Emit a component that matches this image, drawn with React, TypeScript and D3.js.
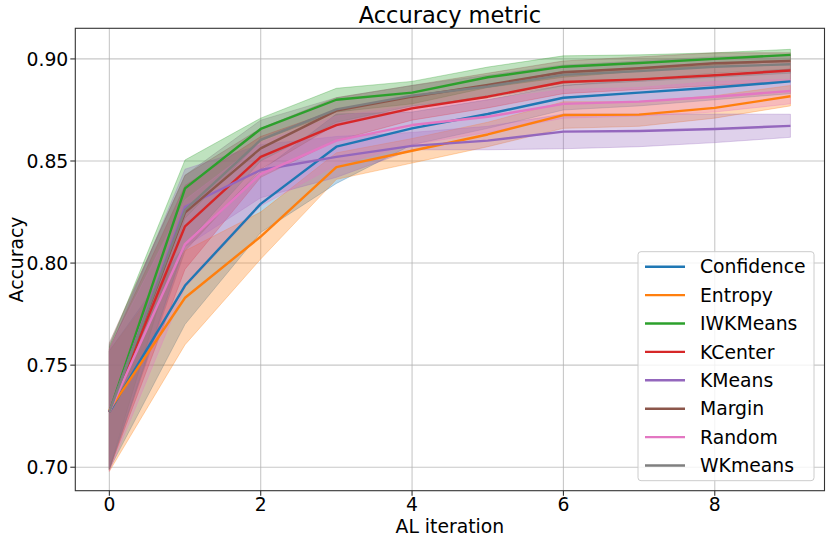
import React from "react";
import * as d3 from "d3";

const iterations = [0, 1, 2, 3, 4, 5, 6, 7, 8, 9];
const seriesNames = ["Confidence", "Entropy", "IWKMeans", "KCenter", "KMeans", "Margin", "Random", "WKmeans"];
const seriesColors = ["#1f77b4", "#ff7f0e", "#2ca02c", "#d62728", "#9467bd", "#8c564b", "#e377c2", "#7f7f7f"];

const confidenceMean = [0.727, 0.789, 0.829, 0.857, 0.866, 0.873, 0.881, 0.8835, 0.886, 0.889];
const confidenceLow = [0.699, 0.770, 0.815, 0.839, 0.858, 0.866, 0.875, 0.877, 0.880, 0.883];
const confidenceHigh = [0.757, 0.809, 0.845, 0.873, 0.874, 0.880, 0.887, 0.890, 0.892, 0.895];

const entropyMean = [0.728, 0.783, 0.813, 0.847, 0.855, 0.863, 0.8725, 0.8727, 0.876, 0.8817];
const entropyLow = [0.698, 0.760, 0.802, 0.841, 0.849, 0.857, 0.866, 0.867, 0.871, 0.877];
const entropyHigh = [0.757, 0.806, 0.825, 0.854, 0.861, 0.869, 0.879, 0.879, 0.882, 0.887];

const iwkMean = [0.727, 0.8366, 0.8657, 0.880, 0.8835, 0.891, 0.8962, 0.898, 0.900, 0.902];
const iwkLow = [0.699, 0.822, 0.860, 0.874, 0.878, 0.886, 0.891, 0.894, 0.897, 0.899];
const iwkHigh = [0.759, 0.8505, 0.871, 0.8856, 0.889, 0.896, 0.9015, 0.902, 0.903, 0.9047];

const kcenterMean = [0.727, 0.818, 0.852, 0.8676, 0.8758, 0.8815, 0.8887, 0.890, 0.892, 0.8943];
const kcenterLow = [0.699, 0.797, 0.842, 0.860, 0.870, 0.876, 0.883, 0.885, 0.887, 0.889];
const kcenterHigh = [0.758, 0.838, 0.862, 0.875, 0.882, 0.887, 0.894, 0.895, 0.897, 0.899];

const kmeansMean = [0.727, 0.8276, 0.8456, 0.852, 0.8574, 0.860, 0.8644, 0.8647, 0.8657, 0.8672];
const kmeansLow = [0.700, 0.808, 0.832, 0.842, 0.8555, 0.8555, 0.856, 0.857, 0.859, 0.8616];
const kmeansHigh = [0.757, 0.846, 0.858, 0.862, 0.864, 0.867, 0.873, 0.873, 0.873, 0.8729];

const marginMean = [0.727, 0.8247, 0.8562, 0.8747, 0.8815, 0.8873, 0.8935, 0.8954, 0.8979, 0.899];
const marginLow = [0.699, 0.806, 0.846, 0.868, 0.876, 0.882, 0.888, 0.890, 0.893, 0.895];
const marginHigh = [0.761, 0.843, 0.866, 0.881, 0.887, 0.893, 0.899, 0.901, 0.903, 0.903];

const randomMean = [0.727, 0.8093, 0.8436, 0.860, 0.8676, 0.8717, 0.878, 0.8791, 0.8815, 0.8843];
const randomLow = [0.698, 0.788, 0.828, 0.848, 0.858, 0.864, 0.871, 0.872, 0.874, 0.878];
const randomHigh = [0.758, 0.831, 0.859, 0.872, 0.877, 0.880, 0.885, 0.886, 0.889, 0.890];

const wkMean = [0.727, 0.826, 0.8603, 0.8753, 0.882, 0.8865, 0.8922, 0.894, 0.8962, 0.8974];
const wkLow = [0.699, 0.809, 0.850, 0.869, 0.877, 0.881, 0.887, 0.889, 0.891, 0.893];
const wkHigh = [0.760, 0.843, 0.870, 0.881, 0.887, 0.892, 0.897, 0.899, 0.901, 0.902];

const xTicks = [0, 2, 4, 6, 8];
const yTicks = [0.7, 0.75, 0.8, 0.85, 0.9];

const seriesMeans = [confidenceMean, entropyMean, iwkMean, kcenterMean, kmeansMean, marginMean, randomMean, wkMean];
const seriesLows = [confidenceLow, entropyLow, iwkLow, kcenterLow, kmeansLow, marginLow, randomLow, wkLow];
const seriesHighs = [confidenceHigh, entropyHigh, iwkHigh, kcenterHigh, kmeansHigh, marginHigh, randomHigh, wkHigh];

const W = 830;
const H = 543;
const left = 75.3;
const right = 824.5;
const top = 28.3;
const bottom = 490.7;
const FONT = "DejaVu Sans, sans-serif";
const FS = 18.8;

export default function App() {
  const x = d3.scaleLinear().domain([-0.45, 9.45]).range([left, right]);
  const y = d3.scaleLinear().domain([0.6885, 0.915]).range([bottom, top]);

  const line = d3
    .line<number>()
    .x((_, i) => x(iterations[i]))
    .y((d) => y(d));

  const area = (lo: number[], hi: number[]) =>
    d3
      .area<number>()
      .x((_, i) => x(iterations[i]))
      .y0((_, i) => y(lo[i]))
      .y1((_, i) => y(hi[i]))(iterations);

  const legendX = 638;
  const legendY = 251.7;
  const legendW = 176;
  const legendH = 229;
  const rowH = 28.4;

  return (
    <svg
      width={W}
      height={H}
      style={{ position: "fixed", left: 0, top: 0, background: "#fff" }}
      fontFamily={FONT}
    >
      <rect x={0} y={0} width={W} height={H} fill="#fff" />
      {/* grid */}
      {xTicks.map((t) => (
        <line key={"gx" + t} x1={x(t)} x2={x(t)} y1={top} y2={bottom} stroke="#b0b0b0" strokeOpacity={0.7} strokeWidth={1.1} />
      ))}
      {yTicks.map((t) => (
        <line key={"gy" + t} x1={left} x2={right} y1={y(t)} y2={y(t)} stroke="#b0b0b0" strokeOpacity={0.7} strokeWidth={1.1} />
      ))}
      {/* bands (drawn below lines, like matplotlib's collection zorder) */}
      {seriesNames.map((name, k) => (
        <path
          key={"band" + name}
          d={area(seriesLows[k], seriesHighs[k]) || ""}
          fill={seriesColors[k]}
          fillOpacity={0.3}
          stroke={seriesColors[k]}
          strokeOpacity={0.3}
          strokeWidth={1}
        />
      ))}
      {/* mean lines */}
      {seriesNames.map((name, k) => (
        <path
          key={"line" + name}
          d={line(seriesMeans[k]) || ""}
          fill="none"
          stroke={seriesColors[k]}
          strokeWidth={2.4}
          strokeLinejoin="round"
        />
      ))}
      {/* spines */}
      <rect x={left} y={top} width={right - left} height={bottom - top} fill="none" stroke="#333" strokeWidth={1.1} />
      {/* x ticks */}
      {xTicks.map((t) => (
        <g key={"xt" + t}>
          <line x1={x(t)} x2={x(t)} y1={bottom} y2={bottom + 5} stroke="#333" strokeWidth={1.1} />
          <text x={x(t)} y={511} textAnchor="middle" fontSize={FS} fill="#000">
            {t}
          </text>
        </g>
      ))}
      {/* y ticks */}
      {yTicks.map((t) => (
        <g key={"yt" + t}>
          <line x1={left - 5} x2={left} y1={y(t)} y2={y(t)} stroke="#333" strokeWidth={1.1} />
          <text x={left - 7} y={y(t)} dy="0.36em" textAnchor="end" fontSize={FS} fill="#000">
            {t.toFixed(2)}
          </text>
        </g>
      ))}
      {/* labels */}
      <text x={(left + right) / 2} y={23} textAnchor="middle" fontSize={22.5} fill="#000">
        Accuracy metric
      </text>
      <text x={(left + right) / 2} y={533.3} textAnchor="middle" fontSize={FS} fill="#000">
        AL iteration
      </text>
      <text
        transform={`translate(22.5,${(top + bottom) / 2}) rotate(-90)`}
        textAnchor="middle"
        fontSize={FS}
        fill="#000"
      >
        Accuracy
      </text>
      {/* legend */}
      <rect x={legendX} y={legendY} width={legendW} height={legendH} rx={3} fill="#fff" fillOpacity={0.8} stroke="#cccccc" strokeWidth={1} />
      {seriesNames.map((name, k) => {
        const cy = legendY + 15 + rowH * k;
        return (
          <g key={"lg" + name}>
            <line x1={645} x2={685} y1={cy} y2={cy} stroke={seriesColors[k]} strokeWidth={2.4} />
            <text x={700} y={cy} dy="0.36em" fontSize={FS} fill="#000">
              {name}
            </text>
          </g>
        );
      })}
    </svg>
  );
}
